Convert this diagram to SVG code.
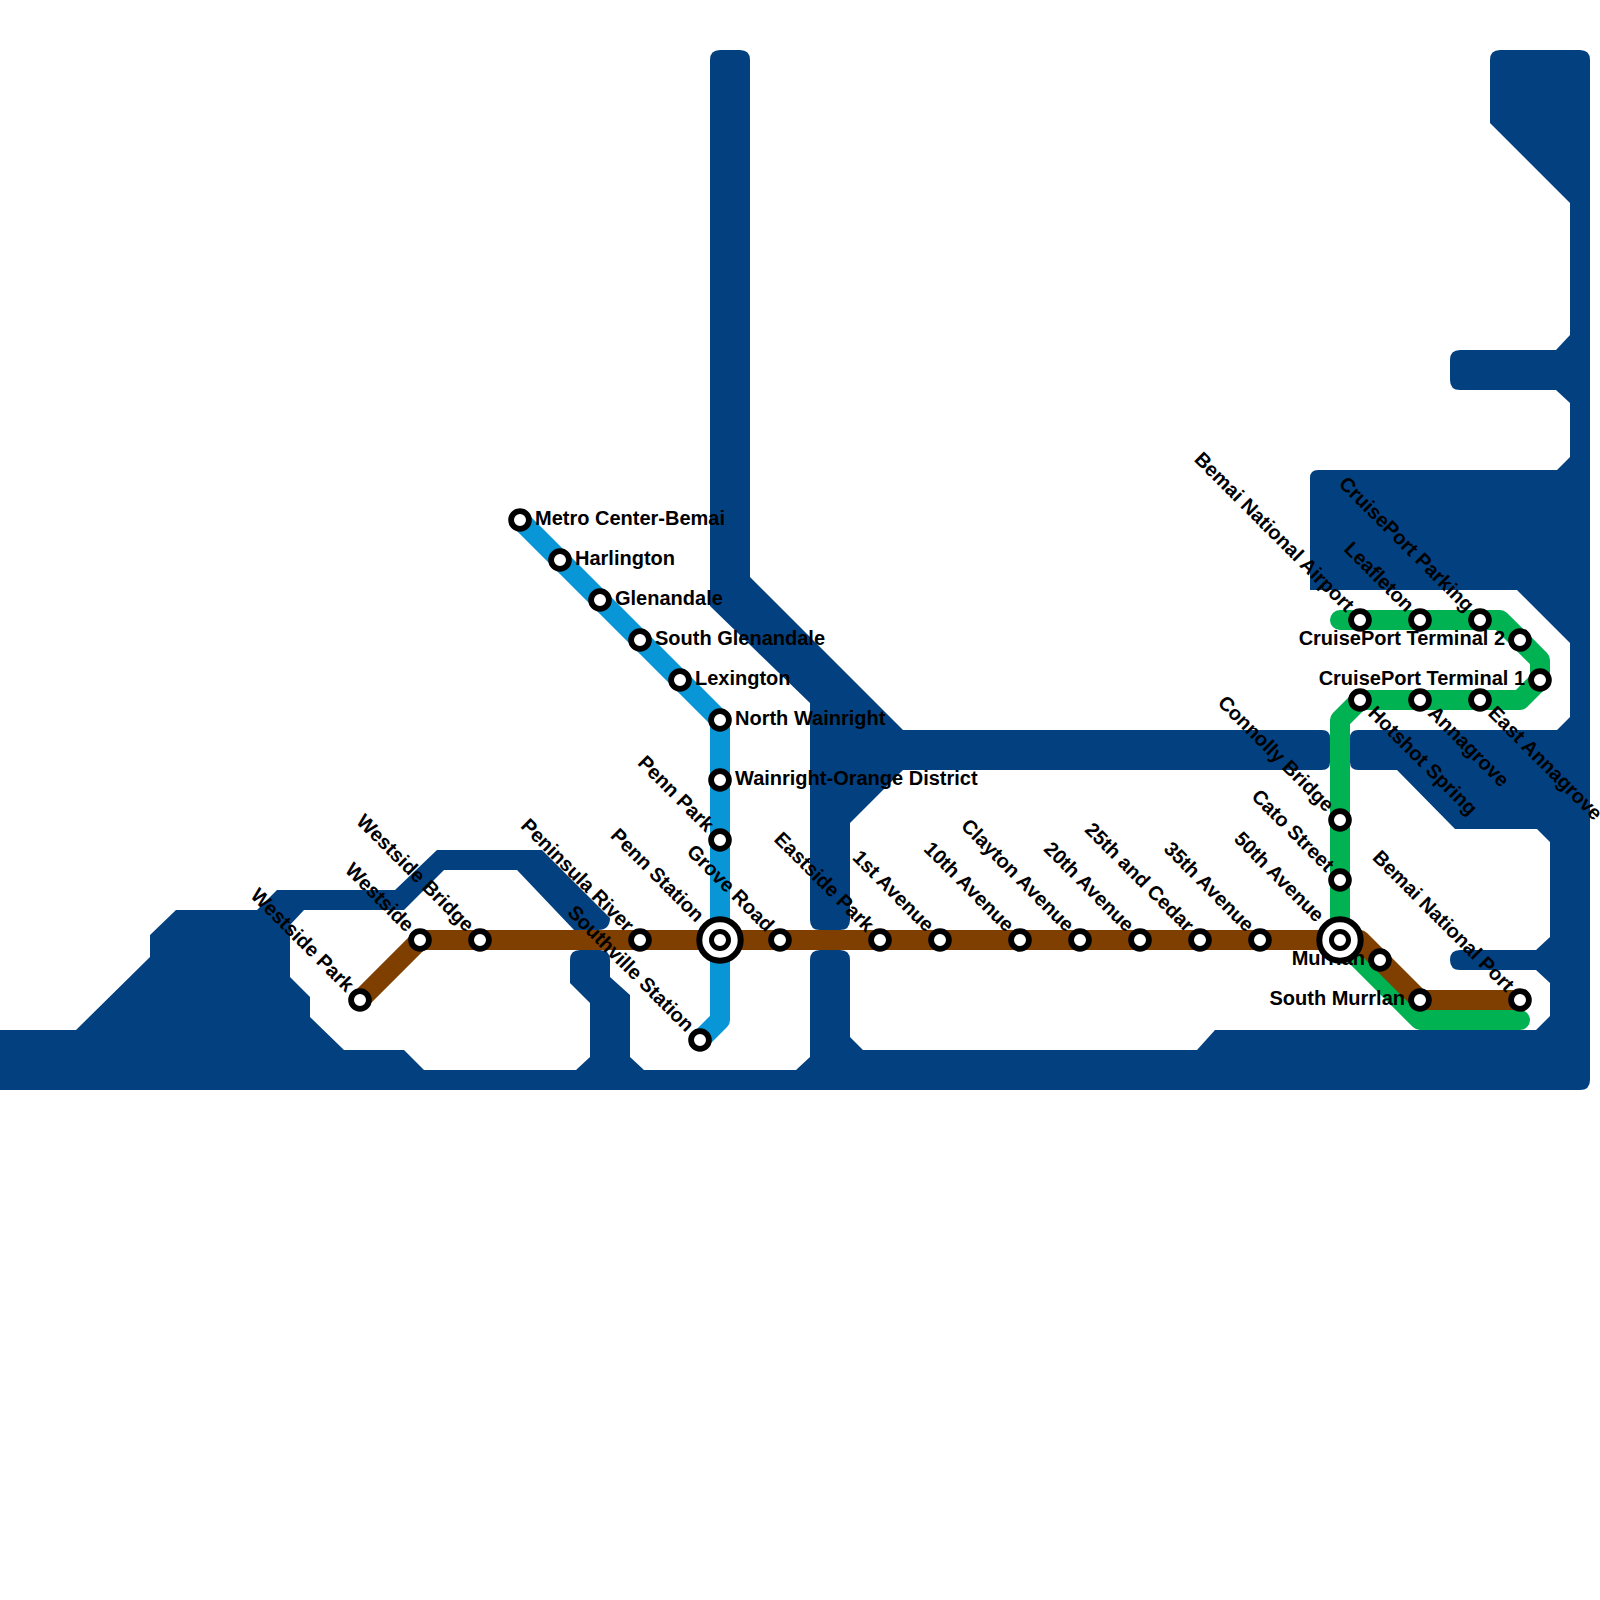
<svg xmlns="http://www.w3.org/2000/svg" width="1600" height="1600" viewBox="0 0 1600 1600">
<style>
.water{fill:#03407f}
.ln{fill:none;stroke-width:20;stroke-linejoin:round;stroke-linecap:round}
.st{fill:#fff;stroke:#000;stroke-width:5.8}
.ring{fill:#fff;stroke:#000;stroke-width:6}
.c{fill:#fff;stroke:#000;stroke-width:5}
text{font-family:"Liberation Sans",Arial,sans-serif;font-weight:bold;font-size:20px;fill:#000}
.e{text-anchor:end}
</style>
<rect width="1600" height="1600" fill="#fff"/>
<g id="water">
<path class="water" d="M0 1030L76 1030L150 957L150 935L176 910L257 910L277 890L395 890L437 850L542 850L610 918Q610 930 598 930L574 930L517 870L444 870L404 910L304 910L290 925L290 977L310 997L310 1017L344 1050L404 1050L424 1070L576 1070L590 1057L590 1003L570 983L570 960Q570 950 580 950L600 950Q610 950 610 960L610 977L630 995L630 1057L644 1070L796 1070L810 1057L810 960Q810 950 820 950L840 950Q850 950 850 960L850 1037L863 1050L1197 1050L1215 1030L1536 1030L1550 1016L1550 983L1536 970L1460 970Q1450 970 1450 960Q1450 950 1460 950L1536 950L1550 937L1550 842L1537 829L1455 829L1397 770L1358 770Q1350 770 1350 762L1350 738Q1350 730 1358 730L1557 730L1570 717L1570 643L1517 590L1310 590L1310 478Q1310 470 1318 470L1557 470L1570 457L1570 403L1556 390L1460 390Q1450 390 1450 380L1450 360Q1450 350 1460 350L1556 350L1570 335L1570 203L1490 123L1490 60Q1490 50 1500 50L1580 50Q1590 50 1590 60L1590 1080Q1590 1090 1580 1090L0 1090Z"/>
<path class="water" d="M720 50Q710 50 710 60L710 606L810 703L810 920Q810 930 820 930L840 930Q850 930 850 920L850 823L903 770L1322 770Q1330 770 1330 762L1330 738Q1330 730 1322 730L903 730L750 577L750 60Q750 50 740 50Z"/>
</g>
<g id="connectors">
<path class="ln" stroke="#0896d7" d="M520 520L720 720L720 1020L700 1040"/>
<path class="ln" stroke="#00b251" d="M1340 620L1500 620L1540 660L1540 680L1520 700L1360 700L1340 720L1340 940L1420 1020L1520 1020"/>
<path class="ln" stroke="#7f3f00" d="M360 1000L420 940L1360 940L1420 1000L1520 1000"/>
</g>
<g id="n-metro-center"><text x="535" y="525">Metro Center-Bemai</text><circle class="st" cx="520" cy="520" r="8.9"/></g>
<g id="n-harlington"><text x="575" y="565">Harlington</text><circle class="st" cx="560" cy="560" r="8.9"/></g>
<g id="n-glenandale"><text x="615" y="605">Glenandale</text><circle class="st" cx="600" cy="600" r="8.9"/></g>
<g id="n-south-glenandale"><text x="655" y="645">South Glenandale</text><circle class="st" cx="640" cy="640" r="8.9"/></g>
<g id="n-lexington"><text x="695" y="685">Lexington</text><circle class="st" cx="680" cy="680" r="8.9"/></g>
<g id="n-north-wainright"><text x="735" y="725">North Wainright</text><circle class="st" cx="720" cy="720" r="8.9"/></g>
<g id="n-wainright-orange"><text x="735" y="785">Wainright-Orange District</text><circle class="st" cx="720" cy="780" r="8.9"/></g>
<g id="n-penn-park"><text class="e" transform="translate(720 840) rotate(45)" x="-15" y="5">Penn Park</text><circle class="st" cx="720" cy="840" r="8.9"/></g>
<g id="n-southville"><text class="e" transform="translate(700 1040) rotate(45)" x="-15" y="5">Southville Station</text><circle class="st" cx="700" cy="1040" r="8.9"/></g>
<g id="n-westside-park"><text class="e" transform="translate(360 1000) rotate(45)" x="-15" y="5">Westside Park</text><circle class="st" cx="360" cy="1000" r="8.9"/></g>
<g id="n-westside"><text class="e" transform="translate(420 940) rotate(45)" x="-15" y="5">Westside</text><circle class="st" cx="420" cy="940" r="8.9"/></g>
<g id="n-westside-bridge"><text class="e" transform="translate(480 940) rotate(45)" x="-15" y="5">Westside Bridge</text><circle class="st" cx="480" cy="940" r="8.9"/></g>
<g id="n-peninsula-river"><text class="e" transform="translate(640 940) rotate(45)" x="-15" y="5">Peninsula River</text><circle class="st" cx="640" cy="940" r="8.9"/></g>
<g id="n-penn-station"><text class="e" transform="translate(720 940) rotate(45)" x="-29" y="5">Penn Station</text><circle class="ring" cx="720" cy="940" r="20.7"/><circle class="c" cx="720" cy="940" r="8.5"/></g>
<g id="n-grove-road"><text class="e" transform="translate(780 940) rotate(45)" x="-15" y="5">Grove Road</text><circle class="st" cx="780" cy="940" r="8.9"/></g>
<g id="n-eastside-park"><text class="e" transform="translate(880 940) rotate(45)" x="-15" y="5">Eastside Park</text><circle class="st" cx="880" cy="940" r="8.9"/></g>
<g id="n-1st-avenue"><text class="e" transform="translate(940 940) rotate(45)" x="-15" y="5">1st Avenue</text><circle class="st" cx="940" cy="940" r="8.9"/></g>
<g id="n-10th-avenue"><text class="e" transform="translate(1020 940) rotate(45)" x="-15" y="5">10th Avenue</text><circle class="st" cx="1020" cy="940" r="8.9"/></g>
<g id="n-clayton-avenue"><text class="e" transform="translate(1080 940) rotate(45)" x="-15" y="5">Clayton Avenue</text><circle class="st" cx="1080" cy="940" r="8.9"/></g>
<g id="n-20th-avenue"><text class="e" transform="translate(1140 940) rotate(45)" x="-15" y="5">20th Avenue</text><circle class="st" cx="1140" cy="940" r="8.9"/></g>
<g id="n-25th-cedar"><text class="e" transform="translate(1200 940) rotate(45)" x="-15" y="5">25th and Cedar</text><circle class="st" cx="1200" cy="940" r="8.9"/></g>
<g id="n-35th-avenue"><text class="e" transform="translate(1260 940) rotate(45)" x="-15" y="5">35th Avenue</text><circle class="st" cx="1260" cy="940" r="8.9"/></g>
<g id="n-murrlan"><text class="e" x="1365" y="965">Murrlan</text><circle class="st" cx="1380" cy="960" r="8.9"/></g>
<g id="n-south-murrlan"><text class="e" x="1405" y="1005">South Murrlan</text><circle class="st" cx="1420" cy="1000" r="8.9"/></g>
<g id="n-bemai-port"><text class="e" transform="translate(1520 1000) rotate(45)" x="-15" y="5">Bemai National Port</text><circle class="st" cx="1520" cy="1000" r="8.9"/></g>
<g id="n-bemai-airport"><text class="e" transform="translate(1360 620) rotate(45)" x="-15" y="5">Bemai National Airport</text><circle class="st" cx="1360" cy="620" r="8.9"/></g>
<g id="n-leafleton"><text class="e" transform="translate(1420 620) rotate(45)" x="-15" y="5">Leafleton</text><circle class="st" cx="1420" cy="620" r="8.9"/></g>
<g id="n-cruiseport-parking"><text class="e" transform="translate(1480 620) rotate(45)" x="-15" y="5">CruisePort Parking</text><circle class="st" cx="1480" cy="620" r="8.9"/></g>
<g id="n-terminal-2"><text class="e" x="1505" y="645">CruisePort Terminal 2</text><circle class="st" cx="1520" cy="640" r="8.9"/></g>
<g id="n-terminal-1"><text class="e" x="1525" y="685">CruisePort Terminal 1</text><circle class="st" cx="1540" cy="680" r="8.9"/></g>
<g id="n-east-annagrove"><text transform="translate(1480 700) rotate(45)" x="15" y="5">East Annagrove</text><circle class="st" cx="1480" cy="700" r="8.9"/></g>
<g id="n-annagrove"><text transform="translate(1420 700) rotate(45)" x="15" y="5">Annagrove</text><circle class="st" cx="1420" cy="700" r="8.9"/></g>
<g id="n-hotshot-spring"><text transform="translate(1360 700) rotate(45)" x="15" y="5">Hotshot Spring</text><circle class="st" cx="1360" cy="700" r="8.9"/></g>
<g id="n-connolly-bridge"><text class="e" transform="translate(1340 820) rotate(45)" x="-15" y="5">Connolly Bridge</text><circle class="st" cx="1340" cy="820" r="8.9"/></g>
<g id="n-cato-street"><text class="e" transform="translate(1340 880) rotate(45)" x="-15" y="5">Cato Street</text><circle class="st" cx="1340" cy="880" r="8.9"/></g>
<g id="n-50th-avenue"><text class="e" transform="translate(1340 940) rotate(45)" x="-29" y="5">50th Avenue</text><circle class="ring" cx="1340" cy="940" r="20.7"/><circle class="c" cx="1340" cy="940" r="8.5"/></g>
</svg>
